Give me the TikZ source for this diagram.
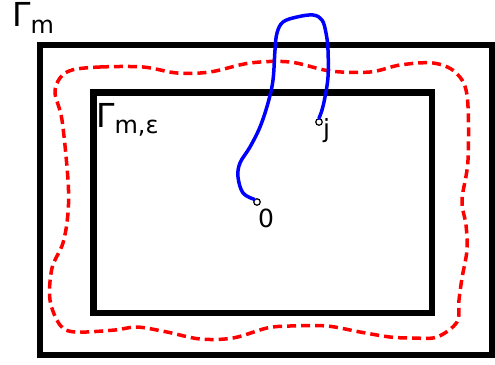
\documentclass[tikz,border=0pt]{standalone}
\usepackage{fontspec}
\setmainfont{DejaVu Sans}
\usepackage{tikz}
\usetikzlibrary{positioning}
\tikzstyle{wall} = [line width=6.5pt, draw=black]
\tikzstyle{band} = [line width=3.5pt, draw=red, dash pattern=on 9pt off 5pt]
\tikzstyle{walk} = [line width=3.5pt, draw=blue, line cap=round, line join=round]
\tikzstyle{site} = [circle, draw=black, fill=white, line width=1.2pt, inner sep=0pt, minimum size=6.5pt]
\tikzstyle{biglabel} = [anchor=base west, inner sep=0pt, font=\fontsize{33}{36}\selectfont]
\tikzstyle{ptlabel} = [anchor=base west, inner sep=0pt, font=\fontsize{25}{28}\selectfont]
\newcommand{\gsub}[1]{\raisebox{-6pt}{\fontsize{24}{26}\selectfont #1}}

\begin{document}
\begin{tikzpicture}[x=1pt, y=-1pt]
        \useasboundingbox (0,0) rectangle (495,364);

        % Rand aussen und innen
        \draw [wall] (40,45) rectangle (492,355);
        \draw [wall] (93.5,92.5) rectangle (432,313);

        % gestrichelte Kurve
        \draw [band] plot [smooth cycle, tension=0.55] coordinates {
            (72,70) (100,67) (143,67) (177,73) (210,72) (250,63) (290,62)
            (330,71) (370,72) (400,65) (433,63) (455,72) (467,95) (468,160)
            (462,200) (466,225) (467,250) (462,278) (459,300) (457,322)
            (437,337) (413,338) (390,337) (360,332) (327,326) (290,326)
            (267,328) (233,338) (200,339) (167,332) (137,327) (115,330)
            (75,332) (60,325) (50,300) (52,268) (63,243) (68,213) (68,180)
            (62,120) (55,93) (60,78)};

        % Punkte
        \node (p0) [site] at (257,202) {};
        \node (pj) [site] at (319,122) {};

        % Pfad
        \draw [walk] plot [smooth, tension=0.6] coordinates {
            (p0.north west) (243,193) (238,177) (240,163) (250,147) (260,127)
            (268,103) (273,80) (275,50) (277,33) (283,22) (297,17) (313,15)
            (322,20) (326,33) (328,50) (328,77) (325,97) (322,110) (pj.north)};

        % Beschriftungen
        \node (gm) [biglabel] at (12,27) {Γ\gsub{m}};
        \node (gme) [biglabel] at (96,127) {Γ\gsub{m,ε}};
        \node (l0) [ptlabel] at (258,227) {0};
        \node (lj) [ptlabel] at (323,137) {j};
    \end{tikzpicture}
\end{document}
